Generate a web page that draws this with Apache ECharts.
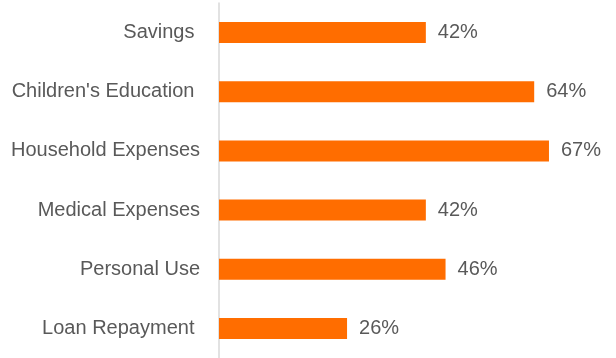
<!DOCTYPE html>
<html>
<head>
<meta charset="utf-8">
<script src="https://cdn.jsdelivr.net/npm/echarts@6/dist/echarts.min.js"></script>
<style>
  html, body { margin: 0; padding: 0; background: #ffffff; }
  #chart { width: 616px; height: 358px; }
</style>
</head>
<body>
<div id="chart"></div>
<script>
// Uses of funds, share of respondents (%)
var categories = ['Savings ', "Children's Education ", 'Household Expenses', 'Medical Expenses', 'Personal Use', 'Loan Repayment '];
var shares = [42, 64, 67, 42, 46, 26];

var chart = echarts.init(document.getElementById('chart'), null, { renderer: 'canvas' });

chart.setOption({
  animation: false,
  backgroundColor: '#ffffff',
  grid: { left: 219, right: 3, top: 3, bottom: -1, containLabel: false },
  xAxis: {
    type: 'value',
    min: 0,
    max: 80,
    show: false
  },
  yAxis: {
    type: 'category',
    data: categories,
    inverse: true,
    axisLine: { show: true, lineStyle: { color: '#d9d9d9', width: 1.5 } },
    axisTick: { show: false },
    axisLabel: {
      margin: 19,
      color: '#595959',
      fontFamily: 'Liberation Sans, Arial, sans-serif',
      fontSize: 20
    }
  },
  series: [{
    type: 'bar',
    data: shares,
    barWidth: 21,
    itemStyle: { color: '#ff6d00' },
    label: {
      show: true,
      position: 'right',
      distance: 12,
      formatter: '{c}%',
      color: '#595959',
      fontFamily: 'Liberation Sans, Arial, sans-serif',
      fontSize: 20
    }
  }]
});
</script>
</body>
</html>
